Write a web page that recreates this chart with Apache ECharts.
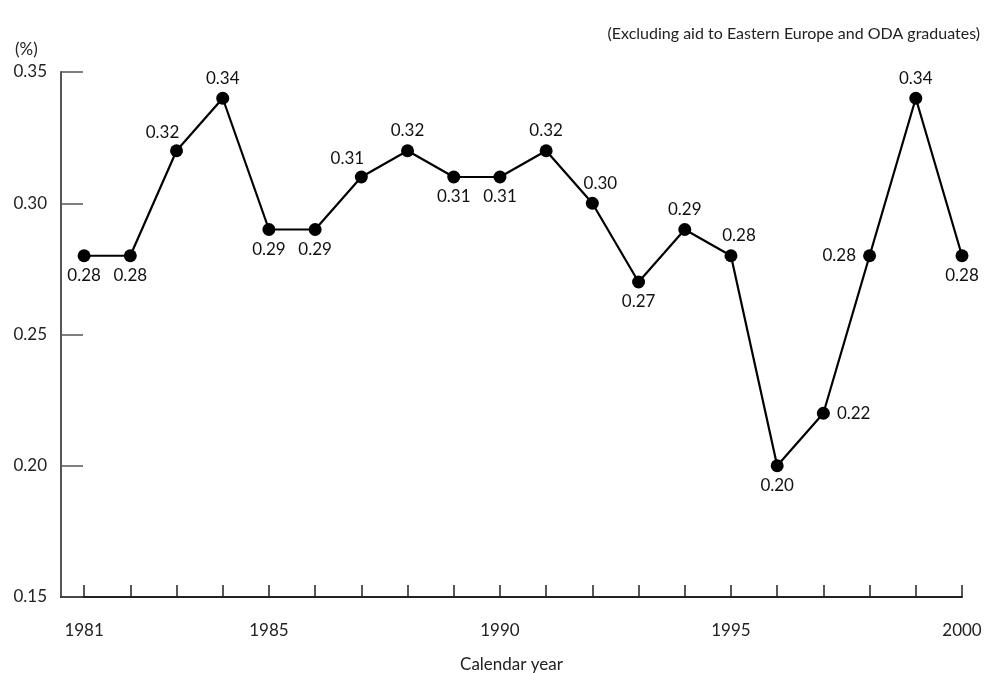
<!DOCTYPE html>
<html>
<head>
<meta charset="utf-8">
<script src="https://cdn.jsdelivr.net/npm/echarts@6/dist/echarts.min.js"></script>
<style>html,body{margin:0;padding:0;background:#fff}#c{width:988px;height:673px}</style>
</head>
<body>
<div id="c"></div>
<script>
var years = [1981,1982,1983,1984,1985,1986,1987,1988,1989,1990,1991,1992,1993,1994,1995,1996,1997,1998,1999,2000];
var values = [0.28,0.28,0.32,0.34,0.29,0.29,0.31,0.32,0.31,0.31,0.32,0.30,0.27,0.29,0.28,0.20,0.22,0.28,0.34,0.28];
var labelPos = ['bottom','bottom','left-top','top','bottom','bottom','left-top','top','bottom','bottom','top','top-right','bottom','top','top-right','bottom','right','left','top','bottom'];
var xTickLabels = [1981,1985,1990,1995,2000];
var yTicks = [0.15,0.20,0.25,0.30,0.35];

var FONT = 'Lato';
function posOpt(p){
  if (p === 'left-top') return {position:'top', offset:[-14,2]};
  if (p === 'top-right') return {position:'top', offset:[8,0]};
  if (p === 'left') return {position:'left', distance:7};
  if (p === 'right') return {position:'right', distance:7};
  return {position:p, distance:5};
}
var data = years.map(function(y,i){
  return {value:[y, values[i]], label: posOpt(labelPos[i])};
});
var chart = echarts.init(document.getElementById('c'));
chart.setOption({
  animation:false,
  backgroundColor:'#fff',
  textStyle:{fontFamily:FONT},
  title:[
    {text:'(Excluding aid to Eastern Europe and ODA graduates)', right:3, top:21,
     textStyle:{fontFamily:FONT, fontSize:16, fontWeight:'normal', color:'#222'}},
    {text:'(%)', left:10, top:36, textStyle:{fontFamily:FONT, fontSize:17, fontWeight:'normal', color:'#222'}}
  ],
  grid:{left:61, right:26, top:72, bottom:76, outerBoundsMode:'none', containLabel:false},
  xAxis:{
    type:'value', min:1980.5, max:2000,
    name:'Calendar year', nameLocation:'middle', nameGap:59,
    nameTextStyle:{fontFamily:FONT, fontSize:17, color:'#222'},
    axisLine:{lineStyle:{color:'#222', width:2}},
    axisTick:{inside:true, length:12, customValues:years, lineStyle:{color:'#222', width:1.5}},
    axisLabel:{customValues:xTickLabels, fontFamily:FONT, fontSize:17, color:'#222', margin:25,
      formatter:function(v){return String(v);}},
    splitLine:{show:false}
  },
  yAxis:{
    type:'value', min:0.15, max:0.35, interval:0.05,
    axisLine:{show:true, lineStyle:{color:'#555', width:2}},
    axisTick:{show:true, inside:true, length:22, lineStyle:{color:'#555', width:1.5}},
    axisLabel:{fontFamily:FONT, fontSize:17, color:'#222', margin:14,
      formatter:function(v){return v.toFixed(2);}},
    splitLine:{show:false}
  },
  series:[{
    type:'line', data:data,
    symbol:'circle', symbolSize:13,
    lineStyle:{color:'#000', width:2.2},
    itemStyle:{color:'#000'},
    label:{show:true, fontFamily:FONT, fontSize:17, color:'#111',
      formatter:function(p){return p.value[1].toFixed(2);}}
  }]
});
</script>
</body>
</html>
